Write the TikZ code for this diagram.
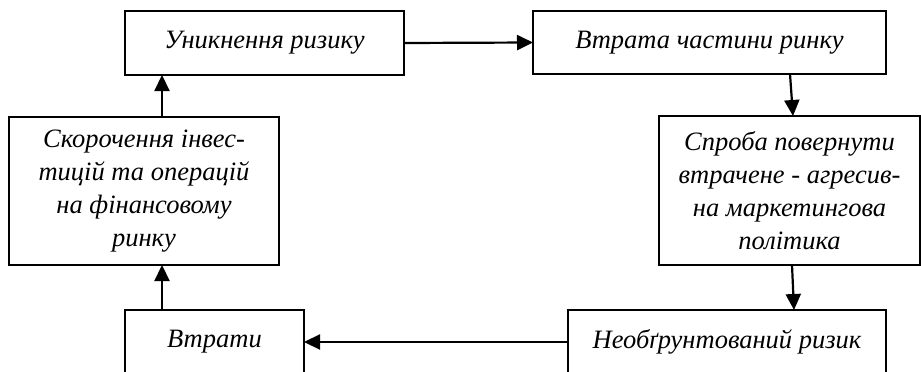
\documentclass[tikz,border=0pt]{standalone}
\usepackage{fontspec}
\setmainfont{Liberation Serif}
\usetikzlibrary{arrows.meta}
\tikzset{
  box/.style={draw, line width=1.9pt, inner sep=0pt, outer sep=0pt, align=center,
    font=\fontsize{26.5}{33}\selectfont\itshape},
  arr/.style={line width=2.2pt, -{Triangle[length=16pt,width=15pt]}}
}
\begin{document}
\begin{tikzpicture}[x=1pt,y=-1pt]
\useasboundingbox (0,0) rectangle (921,372);
\clip (0,0) rectangle (921,372);
\node[box, minimum width=279pt, minimum height=64pt] (b1) at (264.5,43) {Уникнення ризику};
\node[box, minimum width=353pt, minimum height=63pt] (b2) at (709.5,42.5) {Втрата частини ринку};
\node[box, minimum width=261pt, minimum height=149pt] (b3) at (789.5,190.5) {Спроба повернути\\втрачене - агресив-\\на маркетингова\\політика};
\node[box, minimum width=318pt, minimum height=64pt] (b4) at (727,342) {Необґрунтований ризик};
\node[box, minimum width=179pt, minimum height=64pt] (b5) at (214.5,342) {Втрати};
\node[box, minimum width=270pt, minimum height=148pt] (b6) at (144,191) {Скорочення інвес-\\тицій та операцій\\на фінансовому\\ринку};
\draw[arr] (b1.east) -- (b2.west);
\draw[arr] ([xshift=80.5pt]b2.south) -- ([xshift=3.5pt]b3.north);
\draw[arr] ([xshift=2.5pt]b3.south) -- ([xshift=67pt]b4.north);
\draw[arr] (b4.west) -- (b5.east);
\draw[arr] ([xshift=-52.5pt]b5.north) -- ([xshift=18pt]b6.south);
\draw[arr] ([xshift=18pt]b6.north) -- ([xshift=-102.5pt]b1.south);
\end{tikzpicture}
\end{document}
